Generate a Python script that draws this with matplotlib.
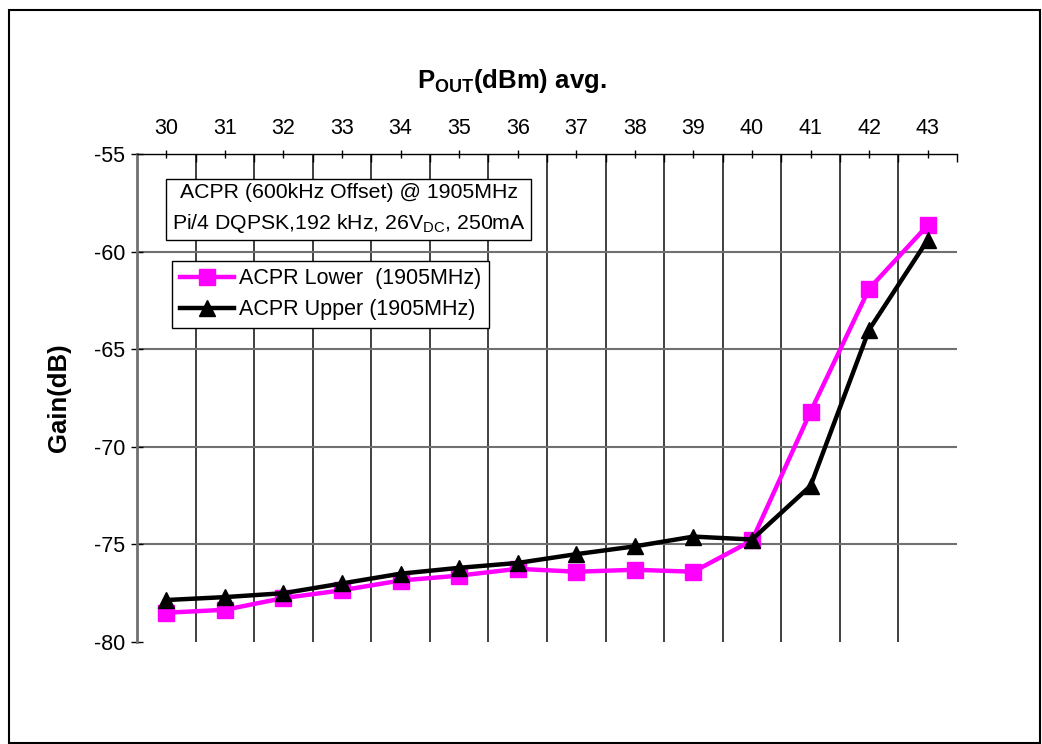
import matplotlib
matplotlib.use('Agg')
import matplotlib.pyplot as plt
from matplotlib.patches import Rectangle
from matplotlib.ticker import FixedLocator
import numpy as np

plt.rcParams['font.family'] = ['Liberation Sans', 'DejaVu Sans']
plt.rcParams['mathtext.fontset'] = 'custom'
plt.rcParams['mathtext.rm'] = 'Liberation Sans'
plt.rcParams['mathtext.bf'] = 'Liberation Sans:bold'
plt.rcParams['axes.unicode_minus'] = False

pout = [30, 31, 32, 33, 34, 35, 36, 37, 38, 39, 40, 41, 42, 43]
acpr_lower = [-78.5, -78.35, -77.75, -77.35, -76.85, -76.6, -76.25, -76.4,
              -76.3, -76.4, -74.8, -68.2, -61.9, -58.65]
acpr_upper = [-77.85, -77.7, -77.5, -77.0, -76.5, -76.2, -75.95, -75.5,
              -75.1, -74.6, -74.75, -72.0, -64.0, -59.4]
y_ticks = [-80, -75, -70, -65, -60, -55]

fig = plt.figure(figsize=(10.42, 7.44), dpi=100)
ax = fig.add_axes([137 / 1042, 1 - 642 / 744, 820 / 1042, 488 / 744])

ax.plot(pout, acpr_lower, color='#ff00ff', lw=3.2, marker='s', ms=11,
        label='ACPR Lower  (1905MHz)', zorder=3)
ax.plot(pout, acpr_upper, color='black', lw=3.2, marker='^', ms=11,
        label='ACPR Upper (1905MHz)', zorder=4)

ax.set_xlim(29.5, 43.5)
ax.set_ylim(-80, -55)
ax.xaxis.tick_top()
ax.set_xticks(pout)
ax.set_yticks(y_ticks)
ax.xaxis.set_minor_locator(FixedLocator(np.arange(30.5, 44, 1)))
ax.tick_params(axis='x', which='major', direction='inout', length=6,
               width=1, labelsize=15.5, pad=8)
ax.tick_params(axis='x', which='minor', direction='in', length=6, width=1)
ax.tick_params(axis='y', direction='inout', length=9, width=1,
               labelsize=15.5, pad=4)

ax.grid(axis='x', which='minor', color='#303030', lw=1.3)
ax.grid(axis='y', which='major', color='#707070', lw=1.5)
ax.xaxis.get_minor_ticks()[-1].gridline.set_visible(False)
ax.yaxis.get_major_ticks()[0].gridline.set_visible(False)
ax.set_axisbelow(True)

for s in ('bottom', 'right'):
    ax.spines[s].set_visible(False)
ax.spines['left'].set_color('#707070')
ax.spines['left'].set_linewidth(2)
ax.spines['top'].set_linewidth(1)

ax.text(0.258, 0.888,
        'ACPR (600kHz Offset) @ 1905MHz\n'
        'Pi/4 DQPSK,192 kHz, 26V$_{\\mathrm{DC}}$, 250mA',
        transform=ax.transAxes, ha='center', va='center', fontsize=15.3,
        linespacing=1.6,
        bbox=dict(boxstyle='square,pad=0.25', fc='white', ec='black', lw=1),
        zorder=5)

leg = ax.legend(loc='upper left', bbox_to_anchor=(0.043, 0.781),
                fontsize=15.5, frameon=True, fancybox=False, framealpha=1,
                edgecolor='black', handlelength=2.5, handletextpad=0.25,
                labelspacing=0.45, borderpad=0.35, borderaxespad=0)
leg.get_frame().set_linewidth(1)
leg.set_zorder(6)

fig.text(512 / 1042, 1 - 81 / 744,
         r'$\mathbf{P_{OUT}}$(dBm) avg.',
         ha='center', va='center', fontsize=18.5, fontweight='bold')
fig.text(59 / 1042, 1 - 398 / 744, 'Gain(dB)', rotation=90,
         ha='center', va='center', fontsize=18.5, fontweight='bold')

fig.patches.append(Rectangle((9 / 1042, 1 - 743 / 744), 1031 / 1042,
                             733 / 744, transform=fig.transFigure,
                             fill=False, ec='black', lw=1.5))

fig.savefig('out.png', dpi=100)
